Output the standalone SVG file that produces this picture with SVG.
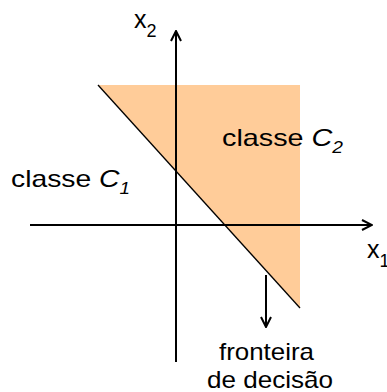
<svg xmlns="http://www.w3.org/2000/svg" width="387" height="392" viewBox="0 0 387 392">
<style>
.t{font-family:"Liberation Sans",Arial,sans-serif;fill:#000}
.ax{stroke:#000;stroke-width:2;fill:none}
.ln{stroke:#000;stroke-width:1.3;fill:none}
</style>
<defs>
<marker id="ah" viewBox="0 0 12 12" refX="11" refY="6" markerWidth="12" markerHeight="12" markerUnits="userSpaceOnUse" orient="auto">
<path d="M1,1 L11,6 L1,11" fill="none" stroke="#000" stroke-width="2"/>
</marker>
</defs>
<g id="region"><polygon points="98,85 300,85 300,308" fill="#FFCC99"/></g>
<g id="connectors">
<line class="ax" x1="176" y1="362" x2="176" y2="31" marker-end="url(#ah)"/>
<line class="ax" x1="30" y1="225" x2="372" y2="225" marker-end="url(#ah)"/>
<line class="ln" x1="98" y1="85" x2="300" y2="308"/>
<line class="ax" x1="266" y1="275" x2="266" y2="327" marker-end="url(#ah)"/>
</g>
<g id="labels">
<text class="t" x="134" y="28" font-size="25">x<tspan font-size="18" dy="9">2</tspan></text>
<text class="t" x="367" y="258" font-size="25">x<tspan font-size="18" dy="9">1</tspan></text>
<text class="t" x="11" y="187" font-size="24" textLength="119" lengthAdjust="spacingAndGlyphs">classe <tspan font-style="italic">C</tspan><tspan font-style="italic" font-size="16" dy="7">1</tspan></text>
<text class="t" x="222" y="146" font-size="24" textLength="121" lengthAdjust="spacingAndGlyphs">classe <tspan font-style="italic">C</tspan><tspan font-style="italic" font-size="16" dy="7">2</tspan></text>
<text class="t" x="219" y="360" font-size="24" textLength="95" lengthAdjust="spacingAndGlyphs">fronteira</text>
<text class="t" x="207" y="388" font-size="24" textLength="126" lengthAdjust="spacingAndGlyphs">de decisão</text>
</g>
</svg>
